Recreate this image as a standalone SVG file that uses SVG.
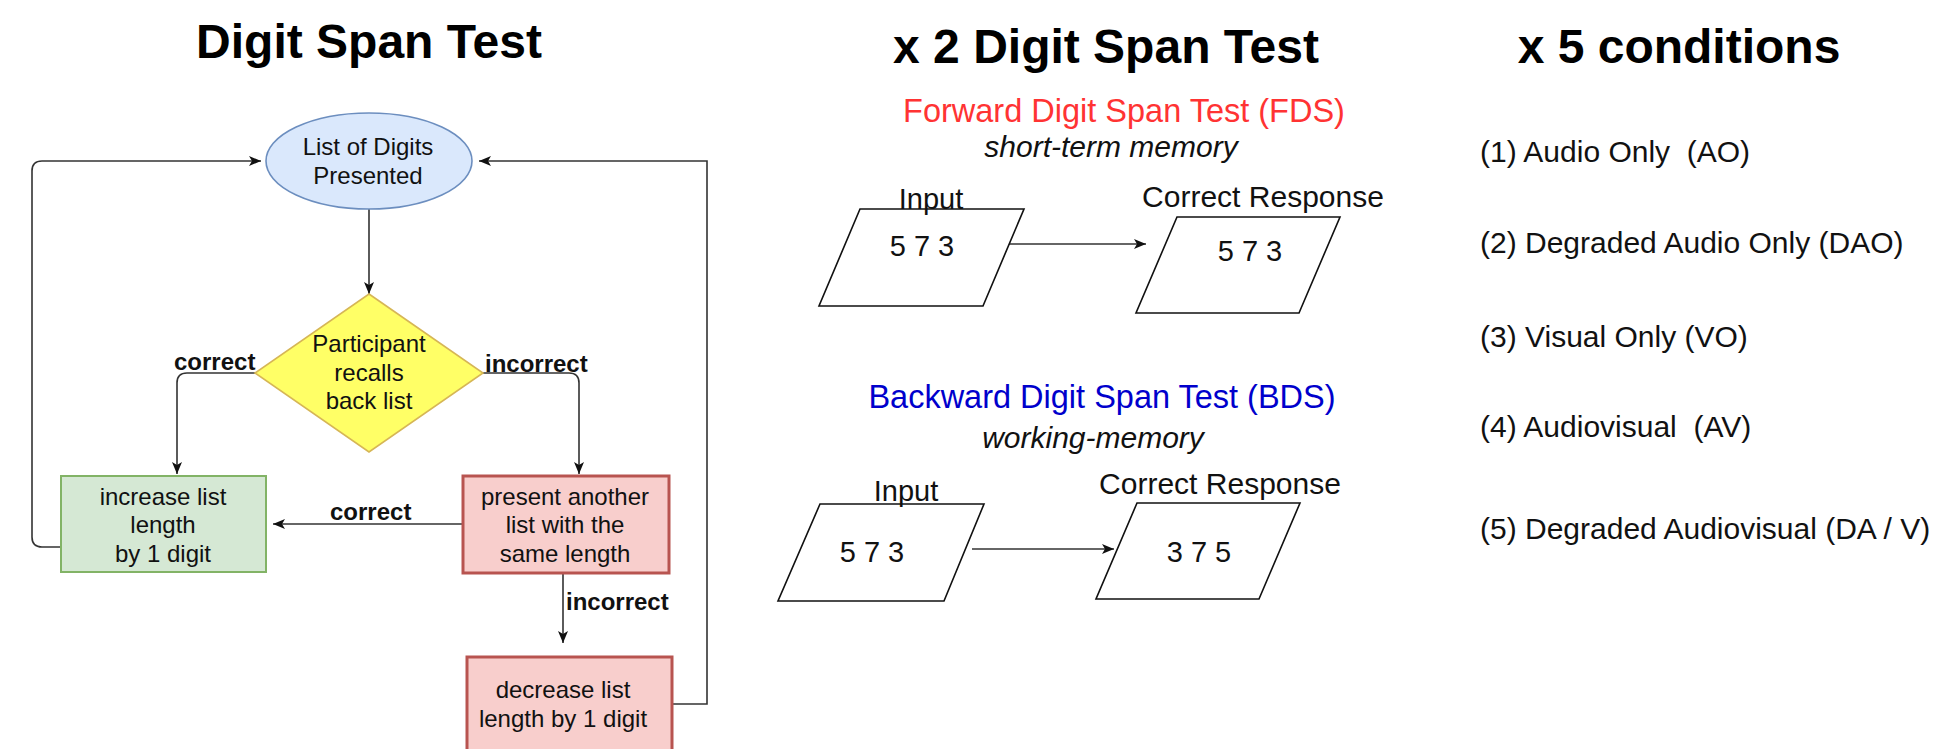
<svg xmlns="http://www.w3.org/2000/svg" width="1937" height="749" viewBox="0 0 1937 749">
<style>
text{font-family:"Liberation Sans",Arial,Helvetica,sans-serif;fill:#111}
.title{font-size:48px;font-weight:bold;text-anchor:middle;fill:#000}
.node{font-size:24px;text-anchor:middle}
.lbl{font-size:24px;font-weight:bold}
.mid{font-size:29px}
.resp{font-size:30px}
.sub{font-size:30px;font-style:italic;text-anchor:middle}
.cond{font-size:30px;white-space:pre}
.conn{fill:none;stroke:#333;stroke-width:1.6}
.para{fill:#fff;stroke:#111;stroke-width:1.6}
</style>
<defs>
<marker id="arr" viewBox="0 0 12 10" refX="12" refY="5" markerWidth="12" markerHeight="10" markerUnits="userSpaceOnUse" orient="auto">
<path d="M0,0 L12,5 L0,10 L3,5 Z" fill="#111"/>
</marker>
</defs>
<rect width="1937" height="749" fill="#fff"/>

<text class="title" x="369" y="58">Digit Span Test</text>
<text class="title" x="1106" y="63">x 2 Digit Span Test</text>
<text class="title" x="1679" y="63">x 5 conditions</text>

<g id="connectors">
<path class="conn" d="M369,209 L369,294" marker-end="url(#arr)"/>
<path class="conn" d="M255,373 L187,373 Q177,373 177,383 L177,474" marker-end="url(#arr)"/>
<path class="conn" d="M483,373 L569,373 Q579,373 579,383 L579,474" marker-end="url(#arr)"/>
<path class="conn" d="M462,524 L273,524" marker-end="url(#arr)"/>
<path class="conn" d="M563,573 L563,643" marker-end="url(#arr)"/>
<path class="conn" d="M672,704 L707,704 L707,161 L479,161" marker-end="url(#arr)"/>
<path class="conn" d="M61,547 L42,547 Q32,547 32,537 L32,171 Q32,161 42,161 L261,161" marker-end="url(#arr)"/>
<path class="conn" d="M1003,244 L1146,244" marker-end="url(#arr)"/>
<path class="conn" d="M972,549 L1114,549" marker-end="url(#arr)"/>
<text class="lbl" x="174" y="370">correct</text>
<text class="lbl" x="485" y="372">incorrect</text>
<text class="lbl" x="330" y="520">correct</text>
<text class="lbl" x="566" y="610">incorrect</text>
</g>

<g id="start">
<ellipse cx="369" cy="161" rx="103" ry="48" fill="#dae8fc" stroke="#6c8ebf" stroke-width="1.6"/>
<text class="node" x="368" y="155">List of Digits</text>
<text class="node" x="368" y="184">Presented</text>
</g>

<g id="decision">
<polygon points="369,294 483,373 369,452 255,373" fill="#ffff66" stroke="#d6b656" stroke-width="1.6"/>
<text class="node" x="369" y="352">Participant</text>
<text class="node" x="369" y="381">recalls</text>
<text class="node" x="369" y="409">back list</text>
</g>

<g id="increase">
<rect x="61" y="476" width="205" height="96" fill="#d5e8d4" stroke="#82b366" stroke-width="2"/>
<text class="node" x="163" y="505">increase list</text>
<text class="node" x="163" y="533">length</text>
<text class="node" x="163" y="562">by 1 digit</text>
</g>

<g id="present">
<rect x="463" y="476" width="206" height="97" fill="#f8cecc" stroke="#b85450" stroke-width="3"/>
<text class="node" x="565" y="505">present another</text>
<text class="node" x="565" y="533">list with the</text>
<text class="node" x="565" y="562">same length</text>
</g>

<g id="decrease">
<rect x="467" y="657" width="205" height="97" fill="#f8cecc" stroke="#b85450" stroke-width="3"/>
<text class="node" x="563" y="698">decrease list</text>
<text class="node" x="563" y="727">length by 1 digit</text>
</g>

<g id="fds-head">
<text x="1124" y="122" style="font-size:32.5px;text-anchor:middle;fill:#ff3333">Forward Digit Span Test (FDS)</text>
<text class="sub" x="1111" y="157">short-term memory</text>
</g>

<g id="fds-input">
<polygon class="para" points="860,209 1024,209 983,306 819,306"/>
<text class="mid" x="931" y="209" text-anchor="middle">Input</text>
<text class="mid" x="922" y="256" text-anchor="middle">5 7 3</text>
</g>

<g id="fds-response">
<polygon class="para" points="1177,217 1340,217 1299,313 1136,313"/>
<text class="resp" x="1263" y="207" text-anchor="middle">Correct Response</text>
<text class="mid" x="1250" y="261" text-anchor="middle">5 7 3</text>
</g>

<g id="bds-head">
<text x="1102" y="408" style="font-size:32.5px;text-anchor:middle;fill:#0000cc">Backward Digit Span Test (BDS)</text>
<text class="sub" x="1093" y="448">working-memory</text>
</g>

<g id="bds-input">
<polygon class="para" points="820,504 984,504 944,601 778,601"/>
<text class="mid" x="906" y="501" text-anchor="middle">Input</text>
<text class="mid" x="872" y="562" text-anchor="middle">5 7 3</text>
</g>

<g id="bds-response">
<polygon class="para" points="1137,503 1300,503 1259,599 1096,599"/>
<text class="resp" x="1220" y="494" text-anchor="middle">Correct Response</text>
<text class="mid" x="1199" y="562" text-anchor="middle">3 7 5</text>
</g>

<g id="conditions">
<text class="cond" x="1480" y="162">(1) Audio Only  (AO)</text>
<text class="cond" x="1480" y="253">(2) Degraded Audio Only (DAO)</text>
<text class="cond" x="1480" y="347">(3) Visual Only (VO)</text>
<text class="cond" x="1480" y="437">(4) Audiovisual  (AV)</text>
<text class="cond" x="1480" y="539">(5) Degraded Audiovisual (DA / V)</text>
</g>
</svg>
